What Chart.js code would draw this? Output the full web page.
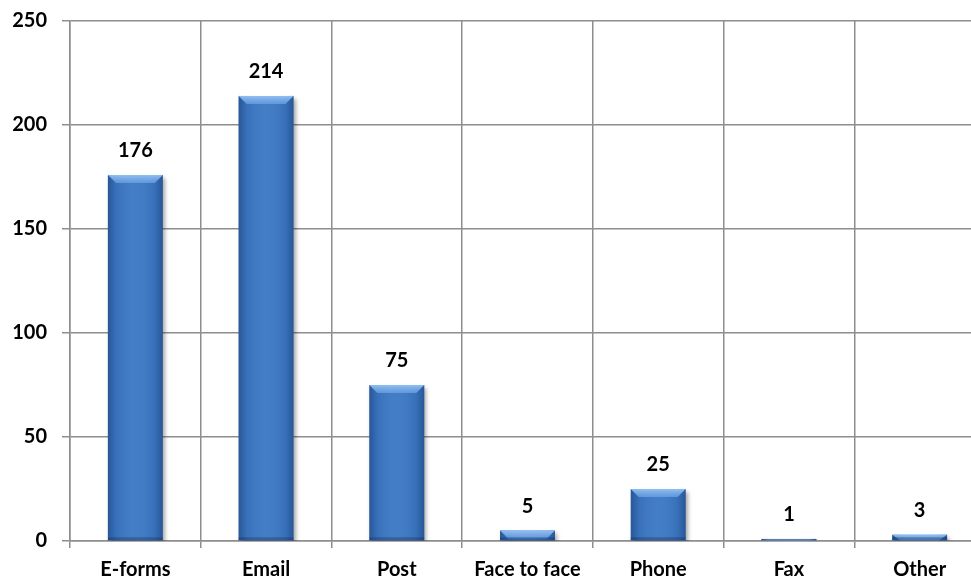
<!DOCTYPE html>
<html>
<head>
<meta charset="utf-8">
<script src="https://cdn.jsdelivr.net/npm/chart.js@4.4.1/dist/chart.umd.min.js"></script>
<style>
html,body{margin:0;padding:0;background:#fff;overflow:hidden;width:971px;height:583px;}
#wrap{position:absolute;left:0;top:0;width:986px;height:583px;}
</style>
</head>
<body>
<div id="wrap"><canvas id="c" width="986" height="583"></canvas></div>
<script>
const categories = ["E-forms", "Email", "Post", "Face to face", "Phone", "Fax", "Other"];
const values = [176, 214, 75, 5, 25, 1, 3];
const yTicks = [0, 50, 100, 150, 200, 250];

const FONT = "Lato, 'Liberation Sans', sans-serif";
const GRID = "#8e8e8e";
const FS = 20;

const shadowPlugin = {
  id: 'barShadow',
  beforeDatasetsDraw(chart) {
    const ctx = chart.ctx;
    ctx.save();
    ctx.shadowColor = 'rgba(0,0,0,0.35)';
    ctx.shadowBlur = 4;
    ctx.shadowOffsetX = 2;
    ctx.shadowOffsetY = 3;
  },
  afterDatasetsDraw(chart) {
    chart.ctx.restore();
    const ctx = chart.ctx;
    const meta = chart.getDatasetMeta(0);
    meta.data.forEach((bar, i) => {
      const left = bar.x - bar.width / 2;
      const right = bar.x + bar.width / 2;
      const top = bar.y;
      const base = bar.base;
      const h = base - top;
      ctx.save();
      const g = ctx.createLinearGradient(left, 0, right, 0);
      g.addColorStop(0, 'rgba(20,45,95,0.45)');
      g.addColorStop(0.15, 'rgba(20,45,95,0.10)');
      g.addColorStop(0.5, 'rgba(255,255,255,0.04)');
      g.addColorStop(0.85, 'rgba(20,45,95,0.10)');
      g.addColorStop(1, 'rgba(20,45,95,0.45)');
      ctx.fillStyle = g;
      ctx.fillRect(left, top, bar.width, h);
      const bv = Math.min(8, h);
      if (bv > 0) {
        const inset = Math.min(8, bar.width / 2);
        ctx.beginPath();
        ctx.moveTo(left, top);
        ctx.lineTo(right, top);
        ctx.lineTo(right - inset, top + bv);
        ctx.lineTo(left + inset, top + bv);
        ctx.closePath();
        const gb = ctx.createLinearGradient(0, top, 0, top + bv);
        gb.addColorStop(0, 'rgba(150,195,245,0.95)');
        gb.addColorStop(1, 'rgba(110,165,230,0.7)');
        ctx.fillStyle = gb;
        ctx.fill();
      }
      const bb = Math.min(3, h);
      ctx.fillStyle = 'rgba(20,45,95,0.35)';
      ctx.fillRect(left, base - bb, bar.width, bb);
      ctx.restore();
      ctx.save();
      ctx.fillStyle = '#000';
      ctx.font = "bold " + FS + "px " + FONT;
      ctx.textAlign = 'center';
      ctx.textBaseline = 'alphabetic';
      ctx.fillText(String(values[i]), bar.x, top - 18);
      ctx.restore();
    });
  }
};

new Chart(document.getElementById('c'), {
  type: 'bar',
  data: {
    labels: categories,
    datasets: [{
      data: values,
      backgroundColor: '#3b78c4',
      borderWidth: 0,
      categoryPercentage: 1,
      barPercentage: 0.42
    }]
  },
  options: {
    responsive: false,
    animation: false,
    events: [],
    layout: { padding: { top: 21, right: 1, left: 0, bottom: 0 } },
    plugins: { legend: { display: false }, tooltip: { enabled: false } },
    scales: {
      x: {
        grid: { color: GRID, lineWidth: 1.5, tickLength: 7, offset: true, drawTicks: true },
        border: { color: GRID, width: 1.5 },
        ticks: { color: '#000', font: { family: FONT, size: FS, weight: 'bold' }, padding: 10, maxRotation: 0, autoSkip: false },
        afterFit(s) { s.height = 42; s.paddingLeft = 0; s.paddingRight = 0; }
      },
      y: {
        min: 0, max: 250,
        afterBuildTicks(s) { s.ticks = yTicks.map(v => ({ value: v })); },
        grid: { color: GRID, lineWidth: 1.5, tickLength: 8 },
        border: { color: GRID, width: 1.5 },
        ticks: { color: '#000', font: { family: FONT, size: FS, weight: 'bold' }, padding: 15 },
        afterFit(s) { s.width = 70; s.paddingTop = 0; s.paddingBottom = 0; }
      }
    }
  },
  plugins: [shadowPlugin]
});
</script>
</body>
</html>
